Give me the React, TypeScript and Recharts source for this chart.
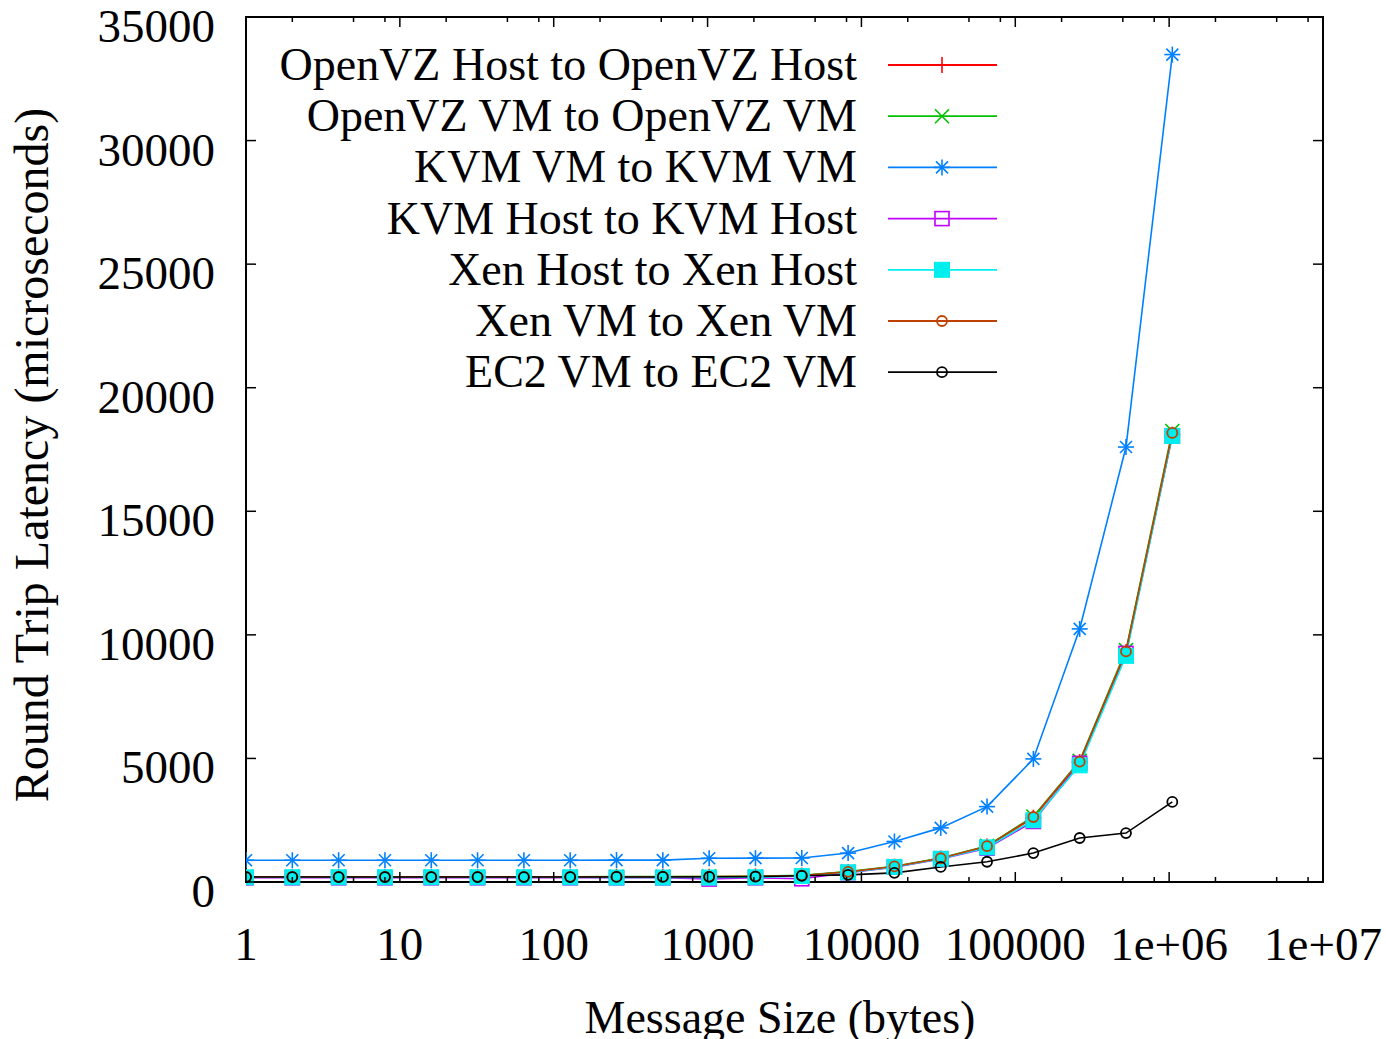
import React from "react"
import { LineChart, Line, XAxis, YAxis, Legend, ReferenceArea } from "recharts"

// message sizes in bytes (powers of two)
const SIZES = [
  1, 2, 4, 8, 16, 32, 64, 128, 256, 512, 1024, 2048, 4096, 8192, 16384, 32768,
  65536, 131072, 262144, 524288, 1048576,
]

// round trip latency, microseconds
const OPENVZ_HOST = [205, 205, 205, 205, 205, 205, 205, 205, 210, 210, 215, 225, 260, 400, 620, 950, 1440, 2600, 4850, 9300, 18100]
const OPENVZ_VM = [215, 215, 215, 215, 215, 215, 215, 215, 220, 220, 225, 235, 270, 420, 640, 970, 1460, 2650, 4900, 9380, 18250]
const KVM_VM = [880, 880, 880, 880, 880, 880, 880, 880, 885, 885, 960, 965, 970, 1170, 1640, 2190, 3050, 4980, 10240, 17600, 33480]
const KVM_HOST = [170, 170, 170, 170, 170, 170, 170, 170, 170, 170, 120, 170, 130, 380, 600, 930, 1370, 2450, 4800, 9250, 18050]
const XEN_HOST = [190, 190, 190, 190, 190, 190, 190, 190, 180, 180, 180, 190, 240, 390, 610, 940, 1400, 2500, 4720, 9150, 18050]
const XEN_VM = [210, 210, 210, 210, 210, 210, 210, 210, 215, 215, 220, 230, 265, 410, 630, 960, 1450, 2630, 4870, 9330, 18170]
const EC2_VM = [200, 200, 200, 200, 200, 200, 200, 200, 205, 205, 210, 215, 250, 290, 370, 610, 820, 1170, 1780, 1980, 3240]

const X_MAJOR = [1, 10, 100, 1000, 10000, 100000, 1000000, 10000000]
const X_LABELS = ["1", "10", "100", "1000", "10000", "100000", "1e+06", "1e+07"]
const X_MINOR = [2, 5, 8, 20, 50, 80, 200, 500, 800, 2000, 5000, 8000, 20000, 50000, 80000, 200000, 500000, 800000, 2000000, 5000000, 8000000]
const Y_TICKS = [0, 5000, 10000, 15000, 20000, 25000, 30000, 35000]

type Shape = "plus" | "cross" | "star" | "square" | "filled" | "circle"

const SERIES: { key: string; name: string; color: string; shape: Shape; values: number[] }[] = [
  { key: "ovzHost", name: "OpenVZ Host to OpenVZ Host", color: "#ff0000", shape: "plus", values: OPENVZ_HOST },
  { key: "ovzVm", name: "OpenVZ VM to OpenVZ VM", color: "#00c000", shape: "cross", values: OPENVZ_VM },
  { key: "kvmVm", name: "KVM VM to KVM VM", color: "#0080ff", shape: "star", values: KVM_VM },
  { key: "kvmHost", name: "KVM Host to KVM Host", color: "#c000ff", shape: "square", values: KVM_HOST },
  { key: "xenHost", name: "Xen Host to Xen Host", color: "#00eeee", shape: "filled", values: XEN_HOST },
  { key: "xenVm", name: "Xen VM to Xen VM", color: "#c04000", shape: "circle", values: XEN_VM },
  { key: "ec2", name: "EC2 VM to EC2 VM", color: "#000000", shape: "circle", values: EC2_VM },
]

const rows = SIZES.map((size, i) => {
  const row: Record<string, number> = { size }
  SERIES.forEach((s) => (row[s.key] = s.values[i]))
  return row
})

const W = 1386
const H = 1039
const PT = 17
const PB = 882
const PL = 246
const PR = 1323
const FONT = "'Liberation Serif', 'Times New Roman', serif"

function marker(shape: Shape, color: string, cx: number, cy: number, key?: string | number) {
  const s = 8
  switch (shape) {
    case "plus":
      return (
        <g key={key} stroke={color} strokeWidth={1.6}>
          <line x1={cx - s} x2={cx + s} y1={cy} y2={cy} />
          <line x1={cx} x2={cx} y1={cy - s} y2={cy + s} />
        </g>
      )
    case "cross":
      return (
        <g key={key} stroke={color} strokeWidth={1.6}>
          <line x1={cx - 7} x2={cx + 7} y1={cy - 7} y2={cy + 7} />
          <line x1={cx - 7} x2={cx + 7} y1={cy + 7} y2={cy - 7} />
        </g>
      )
    case "star":
      return (
        <g key={key} stroke={color} strokeWidth={1.6}>
          <line x1={cx - s} x2={cx + s} y1={cy} y2={cy} />
          <line x1={cx} x2={cx} y1={cy - s} y2={cy + s} />
          <line x1={cx - 6} x2={cx + 6} y1={cy - 6} y2={cy + 6} />
          <line x1={cx - 6} x2={cx + 6} y1={cy + 6} y2={cy - 6} />
        </g>
      )
    case "square":
      return <rect key={key} x={cx - 7} y={cy - 7} width={14} height={14} fill="none" stroke={color} strokeWidth={1.6} />
    case "filled":
      return <rect key={key} x={cx - 7.5} y={cy - 7.5} width={15} height={15} fill={color} stroke={color} strokeWidth={1} />
    default:
      return <circle key={key} cx={cx} cy={cy} r={5} fill="none" stroke={color} strokeWidth={1.8} />
  }
}

function XTick(props: any) {
  const { x, payload } = props
  const v = payload.value
  const idx = X_MAJOR.indexOf(v)
  const len = idx >= 0 ? 10 : 5
  return (
    <g>
      <line x1={x} x2={x} y1={PB} y2={PB - len} stroke="#000" strokeWidth={1.5} />
      <line x1={x} x2={x} y1={PT} y2={PT + len} stroke="#000" strokeWidth={1.5} />
      {idx >= 0 && (
        <text x={x} y={960} textAnchor="middle" fontFamily={FONT} fontSize={47} fill="#000">
          {X_LABELS[idx]}
        </text>
      )}
    </g>
  )
}

function YTick(props: any) {
  const { y, payload } = props
  return (
    <g>
      <line x1={PL} x2={PL + 10} y1={y} y2={y} stroke="#000" strokeWidth={1.5} />
      <line x1={PR - 10} x2={PR} y1={y} y2={y} stroke="#000" strokeWidth={1.5} />
      <text x={215} y={y + 25} textAnchor="end" fontFamily={FONT} fontSize={47} fill="#000">
        {payload.value}
      </text>
    </g>
  )
}

function renderLegend() {
  return (
    <svg width={W} height={420} style={{ position: "absolute", left: 0, top: 0, overflow: "visible" }}>
      {SERIES.map((s, i) => {
        const cy = 65 + i * 51.2
        return (
          <g key={s.key}>
            <text x={857} y={cy + 15} textAnchor="end" fontFamily={FONT} fontSize={46} fill="#000">
              {s.name}
            </text>
            <line x1={888} x2={997} y1={cy} y2={cy} stroke={s.color} strokeWidth={1.8} />
            {marker(s.shape, s.color, 942, cy)}
          </g>
        )
      })}
    </svg>
  )
}

export default function App() {
  return (
    <div style={{ position: "absolute", left: 0, top: 0, width: W, height: H, background: "#fff" }}>
      <LineChart width={W} height={H} data={rows} margin={{ top: PT, right: W - PR, bottom: 0, left: 0 }}>
        <XAxis
          dataKey="size"
          type="number"
          scale="log"
          domain={[1, 10000000]}
          allowDataOverflow
          ticks={[...X_MAJOR, ...X_MINOR]}
          interval={0}
          height={H - PB}
          tickLine={false}
          axisLine={{ stroke: "#000", strokeWidth: 2 }}
          tick={<XTick />}
        />
        <YAxis
          type="number"
          domain={[0, 35000]}
          ticks={Y_TICKS}
          interval={0}
          width={PL}
          tickLine={false}
          axisLine={{ stroke: "#000", strokeWidth: 2 }}
          tick={<YTick />}
        />
        <ReferenceArea
          x1={1}
          x2={10000000}
          y1={0}
          y2={35000}
          fill="none"
          fillOpacity={0}
          stroke="#000"
          strokeWidth={2}
          strokeOpacity={1}
          ifOverflow="visible"
        />
        <Legend
          content={renderLegend}
          wrapperStyle={{ position: "absolute", left: 0, top: 0, width: 0, height: 0, overflow: "visible" }}
        />
        {SERIES.map((s) => (
          <Line
            key={s.key}
            dataKey={s.key}
            name={s.name}
            type="linear"
            stroke={s.color}
            strokeWidth={1.6}
            isAnimationActive={false}
            dot={(p: any) => marker(s.shape, s.color, p.cx, p.cy, `${s.key}-${p.index}`)}
            activeDot={false}
          />
        ))}
        <text x={33} y={455} transform="rotate(-90 33 455)" dy={15} textAnchor="middle" fontFamily={FONT} fontSize={48} fill="#000">
          Round Trip Latency (microseconds)
        </text>
        <text x={780} y={1033} textAnchor="middle" fontFamily={FONT} fontSize={46} fill="#000">
          Message Size (bytes)
        </text>
      </LineChart>
    </div>
  )
}
